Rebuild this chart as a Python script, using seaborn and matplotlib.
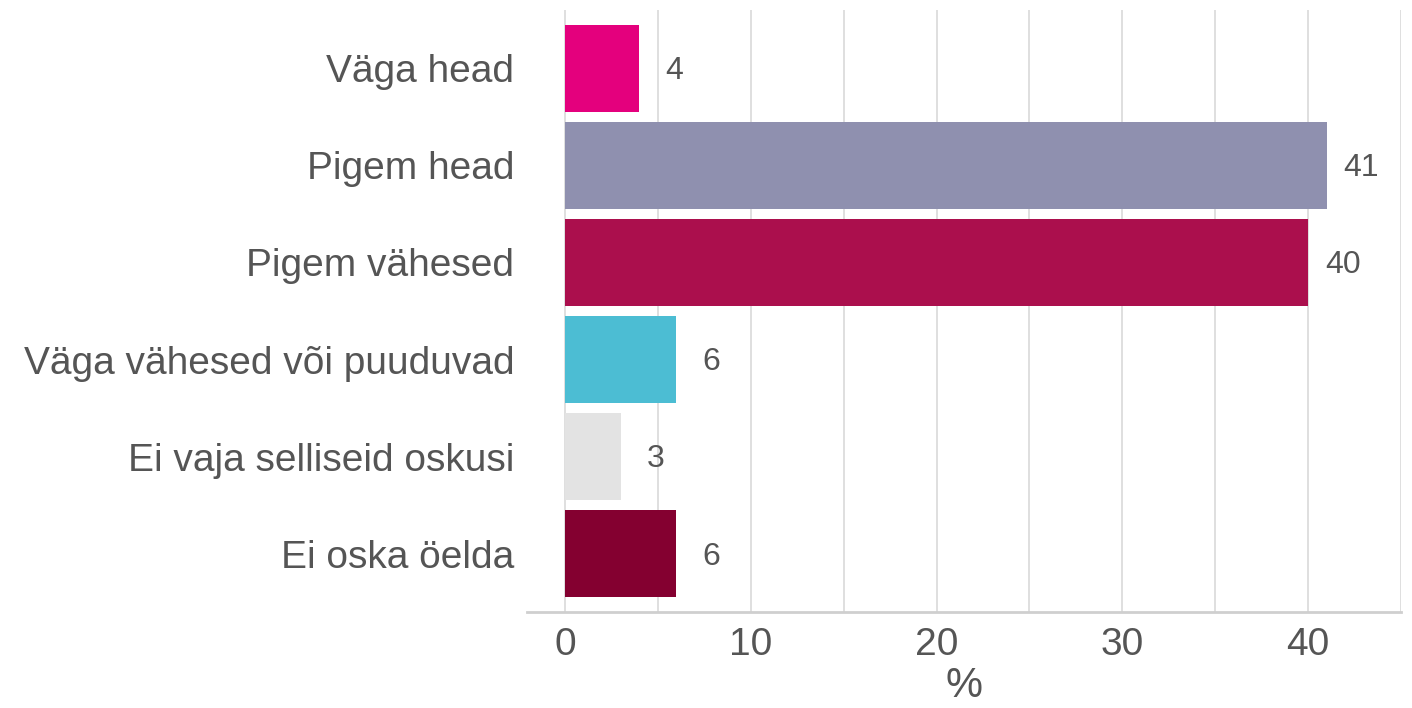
import matplotlib
matplotlib.use("Agg")
import matplotlib.pyplot as plt
import seaborn as sns
import pandas as pd

categories = [
    "Väga head",
    "Pigem head",
    "Pigem vähesed",
    "Väga vähesed või puuduvad",
    "Ei vaja selliseid oskusi",
    "Ei oska öelda",
]
values = [4, 41, 40, 6, 3, 6]
colors = ["#E4007D", "#8F90AF", "#AB0F4D", "#4CBDD3", "#E3E3E3", "#840030"]
x_ticks = [0, 10, 20, 30, 40]
x_label = "%"

sns.set_style("white")
plt.rcParams["font.family"] = ["Liberation Sans", "DejaVu Sans"]

text_color = "#555555"
df = pd.DataFrame({"kategooria": categories, "protsent": values})

fig = plt.figure(figsize=(14.12, 7.08), dpi=100)
ax = fig.add_axes([0.3732, 0.1356, 0.6190, 0.8503])

sns.barplot(
    data=df, x="protsent", y="kategooria", hue="kategooria",
    palette=colors, orient="h", width=0.9, legend=False,
    saturation=1, linewidth=0, ax=ax,
)

ax.set_xlim(-2.05, 45)
ax.set_ylim(5.6, -0.6)
ax.set_xticks(x_ticks)
ax.set_xticklabels([str(t) for t in x_ticks])

# vertical grid every 5 units
for gx in range(0, 46, 5):
    ax.axvline(gx, color="#dcdcdc", linewidth=1.3, zorder=0)

for p, v in zip(ax.patches, values):
    cy = p.get_y() + p.get_height() / 2
    ax.annotate(str(v), xy=(p.get_width(), cy), xytext=(25, -2),
                textcoords="offset points", ha="center", va="center",
                fontsize=23, color=text_color)

ax.set_xlabel(x_label, fontsize=30, color=text_color, labelpad=2)
ax.set_ylabel("")
ax.tick_params(axis="x", length=0, pad=11, labelsize=28, labelcolor=text_color)
ax.tick_params(axis="y", length=0, pad=9, labelsize=28, labelcolor=text_color)

for s in ["top", "right", "left"]:
    ax.spines[s].set_visible(False)
ax.spines["bottom"].set_color("#cfcfcf")
ax.spines["bottom"].set_linewidth(2)

fig.savefig("out.png", dpi=100)
